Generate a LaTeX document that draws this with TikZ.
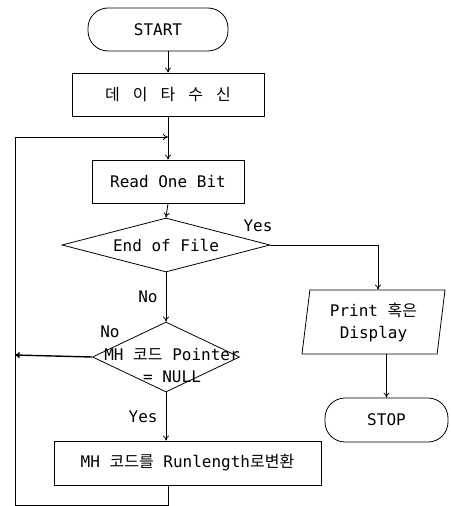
\documentclass[tikz,border=0pt]{standalone}
\usepackage{fontspec}
\setmainfont{DejaVu Sans Mono}
\newfontfamily\kr{Noto Sans CJK KR}
\usetikzlibrary{shapes.geometric,arrows.meta}

\begin{document}
\begin{tikzpicture}[x=1pt,y=-1pt,line width=0.8pt,>={To[length=5pt,width=6pt]},
  every node/.style={font=\fontsize{16}{22}\selectfont},
  term/.style={draw,rounded corners=20pt,inner sep=0pt},
  box/.style={draw,inner sep=0pt},
  diam/.style={draw,diamond,inner sep=0pt,aspect=4},
  io/.style={draw,trapezium,trapezium left angle=78.5,trapezium right angle=101.5,
    trapezium stretches body,inner sep=0pt,align=center},
  lbl/.style={inner sep=0pt}]
\useasboundingbox (0,0) rectangle (450,506);
\node[term,minimum width=140,minimum height=43] (start) at (158,29.5) {START};
\node[box,minimum width=192,minimum height=43] (recv) at (168,94.5)
  {\kr 데\hspace{13pt}이\hspace{13pt}타\hspace{13pt}수\hspace{13pt}신};
\node[box,minimum width=152,minimum height=43] (read) at (168,181.5) {Read One Bit};
\node[diam,minimum width=208,minimum height=54] (eof) at (166,245) {End of File};
\node[diam,minimum width=147,minimum height=70] (nul) at (166,357) {};
\node[lbl,align=center] (nultxt) at (172,366) {MH {\kr 코드} Pointer\\= NULL};
\node[box,minimum width=267,minimum height=44] (conv) at (187.5,463)
  {MH {\kr 코드를} Runlength{\kr 로변환}};
\node[io,minimum width=143,minimum height=64] (prt) at (373.5,322)
  {Print {\kr 혹은}\\Display};
\node[term,minimum width=123,minimum height=44] (stop) at (386.5,420) {STOP};
\coordinate (join) at (168,137);
\coordinate (lft) at (15,355);
\draw[->] (recv.north |- start.south) -- (recv.north);
\draw[->] (recv.south) -- (read.north);
\draw[->] (read.south) -- (eof.north);
\draw[->] (eof.south) -- node[lbl,left=8pt] (no1) {No} (nul.north);
\draw[->] (eof.east) -- (eof.east -| 378,0) -- (prt.north -| 378,0);
\node[lbl] (yes1) at (258,226) {Yes};
\draw[->,line width=1.4pt] (nul.west) -- (lft);
\node[lbl] (no2) at (110,332) {No};
\draw[->] (nul.south) -- node[lbl,left=8pt] (yes2) {Yes} (conv.north -| nul.south);
\draw[->] (prt.south -| stop.north) -- (stop.north);
\draw[->] (conv.south -| join) -- (168,505) -- (15,505) -- (15,137) -- (join);
\end{tikzpicture}
\end{document}
